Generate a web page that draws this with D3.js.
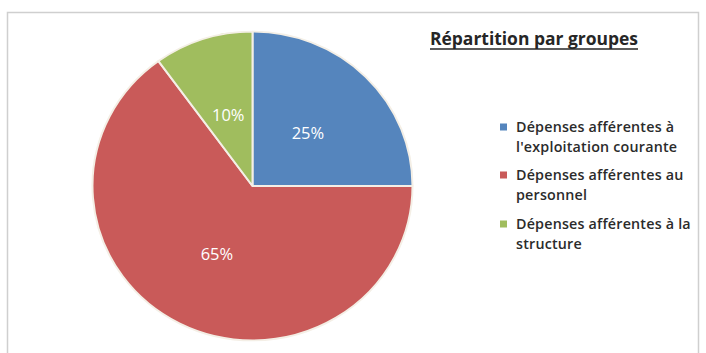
<!DOCTYPE html>
<html>
<head>
<meta charset="utf-8">
<script src="https://cdn.jsdelivr.net/npm/d3@7"></script>
<style>
  html, body { margin: 0; padding: 0; background: #fff; }
  svg { display: block; }
</style>
</head>
<body>
<svg id="chart" width="706" height="353"></svg>
<script>
// Répartition des dépenses par groupes
const categories = [
  "Dépenses afférentes à l'exploitation courante",
  "Dépenses afférentes au personnel",
  "Dépenses afférentes à la structure"
];
const values = [25, 65, 10];
const legendLines = [
  ["Dépenses afférentes à", "l'exploitation courante"],
  ["Dépenses afférentes au", "personnel"],
  ["Dépenses afférentes à la", "structure"]
];
const colors = ["#5585bd", "#c95a59", "#a0bd5e"];
const title = "Répartition par groupes";

const svg = d3.select("#chart");
const font = "'Open Sans', Lato, sans-serif";

// chart frame
svg.append("rect")
  .attr("x", 7.5).attr("y", 12.5)
  .attr("width", 691).attr("height", 345)
  .attr("fill", "#fff")
  .attr("stroke", "#cfcfcf").attr("stroke-width", 1.5);

// pie
const cx = 252.5, cy = 186, r = 160, sy = 0.965;
const pie = d3.pie().sort(null).value(d => d);
const arcs = pie(values);
const arc = d3.arc().innerRadius(0).outerRadius(r);
const labelArc = d3.arc().innerRadius(r * 0.49).outerRadius(r * 0.49);

const g = svg.append("g").attr("transform", `translate(${cx},${cy}) scale(1,${sy})`);
g.selectAll("path")
  .data(arcs)
  .join("path")
  .attr("d", arc)
  .attr("fill", (d, i) => colors[i])
  .attr("stroke", "#f4efe6")
  .attr("stroke-width", 2)
  .attr("stroke-linejoin", "round");

svg.append("g")
  .selectAll("text")
  .data(arcs)
  .join("text")
  .attr("x", d => cx + labelArc.centroid(d)[0])
  .attr("y", d => cy + labelArc.centroid(d)[1] * sy)
  .attr("text-anchor", "middle")
  .attr("dominant-baseline", "central")
  .attr("fill", "#fff")
  .attr("font-family", font)
  .attr("font-size", 16.5)
  .text(d => d.data + "%");

// title
svg.append("text")
  .attr("x", 430).attr("y", 45)
  .attr("font-family", font)
  .attr("font-weight", "bold")
  .attr("font-size", 17)
  .attr("fill", "#262626")
  .attr("textLength", 208)
  .attr("lengthAdjust", "spacingAndGlyphs")
  .text(title);
svg.append("line")
  .attr("x1", 430).attr("x2", 638)
  .attr("y1", 49).attr("y2", 49)
  .attr("stroke", "#262626").attr("stroke-width", 1.5);

// legend
const legendY = [127, 175, 224];
const leg = svg.append("g");
legendLines.forEach((lines, i) => {
  leg.append("rect")
    .attr("x", 500).attr("y", legendY[i] - 3.5)
    .attr("width", 7).attr("height", 7)
    .attr("fill", colors[i]);
  lines.forEach((t, j) => {
    leg.append("text")
      .attr("x", 516).attr("y", legendY[i] + 5 + j * 19.5)
      .attr("font-family", font)
      .attr("font-weight", 600)
      .attr("font-size", 14.3)
      .attr("letter-spacing", 0.2)
      .attr("fill", "#2b2b2b")
      .text(t);
  });
});
</script>
</body>
</html>
